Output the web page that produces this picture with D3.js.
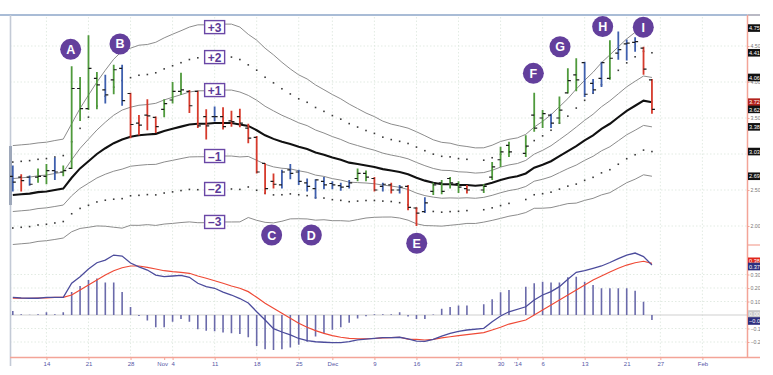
<!DOCTYPE html>
<html><head><meta charset="utf-8">
<script src="https://cdn.jsdelivr.net/npm/d3@7"></script>
<style>body{margin:0;background:#fff;}svg{display:block;}</style>
</head><body><svg id="c" width="773" height="375"></svg>
<script>
// ---------- DATA (one slot per trading day, Oct 8 2013 .. Jan 24 2014; null = empty slot) ----------
const tickIdx  = [4,9,14,18,19,24,29,34,38,43,48,53,58,60,63,68,73,77,82];
const tickText = ["14","21","28","Nov","4","11","18","25","Dec","9","16","23","30","'14","6","13","21","27","Feb"];
const gridIdx  = [4,9,14,19,24,29,34,38,43,48,53,58,63,68,73,77,82];

const open  = [2.69,2.68,2.68,2.68,2.69,2.77,2.75,2.80,3.91,3.63,4.05,3.89,4.03,4.19,3.84,3.43,3.54,3.51,3.62,3.75,3.87,3.87,3.87,3.52,3.52,3.52,3.46,3.52,3.36,3.23,2.87,2.62,2.57,2.78,2.75,2.60,2.52,2.62,2.59,2.56,2.55,2.66,2.73,2.66,2.55,2.57,2.50,2.55,2.25,2.20,2.48,2.60,2.66,2.59,2.52,null,2.50,2.68,2.92,3.12,null,3.01,3.54,3.50,3.54,3.50,3.85,4.10,4.27,3.98,4.05,4.05,4.40,4.53,4.55,4.47,4.03];
const high  = [2.84,2.72,2.70,2.80,2.86,2.95,2.84,4.22,4.07,4.65,4.14,4.10,4.24,4.24,3.85,3.54,3.76,3.52,3.76,4.00,4.13,3.89,3.88,3.62,3.66,3.65,3.60,3.63,3.42,3.25,2.87,2.73,2.78,2.86,2.78,2.66,2.65,2.68,2.62,2.60,2.64,2.80,2.77,2.68,2.60,2.60,2.57,2.57,2.26,2.40,2.60,2.64,2.68,2.62,2.57,null,2.58,2.89,3.10,3.17,null,3.26,3.85,3.61,3.56,3.80,4.19,4.33,4.28,4.04,4.28,4.58,4.70,4.59,4.62,4.49,4.04];
const low   = [2.48,2.48,2.56,2.60,2.58,2.64,2.69,2.79,3.46,3.61,3.62,3.70,3.83,3.67,3.22,3.26,3.33,3.29,3.51,3.70,3.82,3.57,3.36,3.20,3.45,3.34,3.38,3.37,3.15,2.73,2.44,2.52,2.52,2.65,2.57,2.48,2.38,2.51,2.51,2.49,2.52,2.62,2.62,2.48,2.48,2.45,2.45,2.22,2.00,2.18,2.43,2.44,2.52,2.46,2.45,null,2.46,2.64,2.82,2.96,null,2.96,3.31,3.36,3.36,3.42,3.84,3.87,3.79,3.84,3.93,4.03,4.31,4.30,4.42,4.10,3.56];
const close = [2.61,2.63,2.58,2.69,2.77,2.75,2.77,3.91,3.63,4.19,3.96,3.82,4.17,3.74,3.41,3.40,3.53,3.38,3.70,3.87,3.89,3.67,3.39,3.39,3.52,3.38,3.45,3.43,3.22,2.75,2.52,2.58,2.75,2.73,2.62,2.55,2.64,2.57,2.57,2.54,2.60,2.73,2.68,2.50,2.58,2.50,2.54,2.26,2.18,2.32,2.57,2.48,2.60,2.54,2.50,null,2.55,2.82,3.03,3.03,null,3.11,3.36,3.56,3.43,3.61,4.02,4.03,3.83,3.89,4.27,4.33,4.45,4.54,4.56,4.18,3.62];
// impulse system colour: g = green, r = red, b = blue
const impulse = "brbggbgggggbgbrrrrgggrrrbrrrrrrrbbbbbbbbbggrbrbrrbggggr-gggg-gggbgggbbbgbbbrr".split("");

const ema   = [2.43,2.44,2.45,2.47,2.48,2.50,2.52,2.67,2.80,2.90,3.00,3.08,3.15,3.20,3.24,3.26,3.27,3.28,3.32,3.35,3.38,3.41,3.42,3.42,3.43,3.43,3.43,3.41,3.39,3.33,3.26,3.21,3.17,3.14,3.10,3.07,3.02,2.99,2.95,2.92,2.88,2.86,2.84,2.82,2.79,2.77,2.75,2.72,2.67,2.63,2.60,2.58,2.58,2.57,2.57,2.56,2.57,2.60,2.64,2.67,2.69,2.73,2.81,2.85,2.90,2.97,3.04,3.11,3.19,3.26,3.35,3.42,3.51,3.60,3.67,3.74,3.72];
const chanUnit = [0.229,0.229,0.229,0.228,0.228,0.229,0.229,0.25,0.278,0.306,0.333,0.361,0.389,0.41,0.41,0.417,0.417,0.424,0.431,0.438,0.444,0.451,0.458,0.458,0.458,0.458,0.458,0.451,0.424,0.417,0.403,0.389,0.368,0.347,0.333,0.324,0.313,0.301,0.292,0.282,0.271,0.257,0.243,0.233,0.222,0.215,0.213,0.213,0.213,0.208,0.199,0.194,0.19,0.183,0.178,0.175,0.172,0.174,0.178,0.178,0.178,0.181,0.188,0.201,0.215,0.229,0.243,0.264,0.278,0.292,0.306,0.319,0.326,0.333,0.34,0.343,0.343];
const bandMult = [3,2,1,-1,-2,-3];
const bandText = ["+3","+2","+1","\u20131","\u20132","\u20133"];

const macd   = [0.131,0.126,0.124,0.124,0.13,0.131,0.131,0.235,0.284,0.341,0.387,0.407,0.444,0.437,0.385,0.356,0.333,0.296,0.284,0.289,0.294,0.279,0.235,0.21,0.198,0.17,0.148,0.122,0.089,0.024,-0.037,-0.101,-0.126,-0.148,-0.174,-0.19,-0.198,-0.202,-0.205,-0.204,-0.198,-0.185,-0.178,-0.173,-0.168,-0.168,-0.165,-0.176,-0.193,-0.195,-0.18,-0.156,-0.136,-0.121,-0.111,null,-0.099,-0.05,-0.007,0.024,null,0.061,0.111,0.148,0.173,0.21,0.264,0.316,0.328,0.346,0.363,0.389,0.417,0.444,0.459,0.433,0.37];
const signal = [0.124,0.124,0.124,0.126,0.127,0.13,0.131,0.148,0.185,0.222,0.259,0.296,0.328,0.35,0.363,0.363,0.353,0.341,0.328,0.321,0.316,0.309,0.289,0.272,0.254,0.235,0.215,0.198,0.173,0.131,0.087,0.05,0.013,-0.024,-0.061,-0.091,-0.116,-0.136,-0.153,-0.165,-0.173,-0.176,-0.176,-0.174,-0.17,-0.167,-0.165,-0.178,-0.18,-0.185,-0.18,-0.17,-0.161,-0.153,-0.146,null,-0.131,-0.111,-0.091,-0.067,null,-0.037,0,0.037,0.074,0.111,0.148,0.185,0.222,0.259,0.289,0.319,0.346,0.37,0.387,0.398,0.383];
const hist   = [0.03,0.005,0.002,0.005,0.02,0.005,0.02,0.17,0.215,0.26,0.27,0.24,0.24,0.17,0.06,-0.007,-0.04,-0.09,-0.09,-0.05,-0.03,-0.05,-0.106,-0.116,-0.12,-0.13,-0.136,-0.14,-0.165,-0.23,-0.254,-0.259,-0.254,-0.24,-0.22,-0.198,-0.16,-0.136,-0.11,-0.09,-0.057,-0.025,-0.01,0.005,0.005,0.005,0.02,-0.012,-0.03,-0.03,0.003,0.047,0.06,0.07,0.07,null,0.08,0.116,0.168,0.185,null,0.21,0.235,0.247,0.24,0.24,0.28,0.284,0.247,0.222,0.198,0.198,0.198,0.198,0.18,0.099,-0.037];

const priceTicks = [2.0,2.5,3.0,3.5,4.0,4.5];
const priceTickLabels = [2.0,2.5,3.5,4.0,4.5];
const macdTicks = [-0.2,-0.1,0.1,0.2,0.3];
const letters = ["A","B","C","D","E","F","G","H","I"];
const letterIdx = [6.88,12.75,30.78,35.5,48.03,61.9,65.07,70.14,74.97];
const letterPrice = [4.454,4.528,1.875,1.875,1.76,4.12,4.49,4.77,4.76];

// ---------- SCALES ----------
const svg = d3.select("#c");
const x  = d3.scaleLinear().domain([0,82]).range([12.8,702.4]);
const yP = d3.scaleLinear().domain([2,4.5]).range([226,46]);
const yM = d3.scaleLinear().domain([-0.2,0.3]).range([342,274.5]);
const L = 10, R = 747.5, T = 15, SEP = 245, B = 357.5;
const colors = {g:"#4f9a3c", r:"#d63a2c", b:"#3e5fae"};
const salmon = "#f3a497";
const idx = d3.range(ema.length);

const defs = svg.append("defs");
defs.append("clipPath").attr("id","cp").append("rect").attr("x",L).attr("y",T).attr("width",R-L).attr("height",SEP-T);
defs.append("clipPath").attr("id","cm").append("rect").attr("x",L).attr("y",SEP+1).attr("width",R-L).attr("height",B-SEP-1);
defs.append("clipPath").attr("id","cr").append("rect").attr("x",0).attr("y",0).attr("width",760).attr("height",375);

// ---------- GRID ----------
const grid = svg.append("g").attr("stroke","#dbe6dc").attr("stroke-width",0.8).attr("stroke-dasharray","1.5,2");
grid.selectAll("line.v").data(gridIdx).join("line")
  .attr("x1",d=>x(d)).attr("x2",d=>x(d)).attr("y1",T+2).attr("y2",B);
grid.selectAll("line.hp").data(priceTicks).join("line")
  .attr("x1",L).attr("x2",R).attr("y1",d=>yP(d)).attr("y2",d=>yP(d));
grid.selectAll("line.hm").data(macdTicks).join("line")
  .attr("x1",L).attr("x2",R).attr("y1",d=>yM(d)).attr("y2",d=>yM(d));
svg.append("line").attr("x1",L).attr("x2",R).attr("y1",yM(0)).attr("y2",yM(0)).attr("stroke","#cfcfcf").attr("stroke-width",1);

// ---------- FRAME ----------
svg.append("line").attr("x1",0).attr("x2",R).attr("y1",T).attr("y2",T).attr("stroke","#a9bcd6").attr("stroke-width",2);
svg.append("line").attr("x1",R).attr("x2",760).attr("y1",T).attr("y2",T).attr("stroke","#b9b9c4").attr("stroke-width",2);
svg.append("line").attr("x1",L+0.5).attr("x2",L+0.5).attr("y1",T).attr("y2",366).attr("stroke","#c3cad6").attr("stroke-width",1.6);
svg.append("line").attr("x1",L+0.5).attr("x2",L+0.5).attr("y1",146).attr("y2",205).attr("stroke","#9ea8ba").attr("stroke-width",3);

// ---------- PRICE PANEL ----------
const gp = svg.append("g").attr("clip-path","url(#cp)");
const bandLine = k => d3.line().x(i=>x(i)).y(i=>yP(ema[i]+k*chanUnit[i]));
[3,1,-1,-3].forEach(k=>{
  gp.append("path").attr("d",bandLine(k)(idx)).attr("fill","none").attr("stroke","#8c8c8c").attr("stroke-width",1);
});
[2,-2].forEach(k=>{
  gp.selectAll(null).data(idx.filter(i=>open[i]!==null)).join("rect")
    .attr("x",i=>x(i)-0.8).attr("y",i=>yP(ema[i]+k*chanUnit[i])-0.8).attr("width",1.6).attr("height",1.6).attr("fill","#3a3a3a");
});
gp.append("path").attr("d",d3.line().x(i=>x(i)).y(i=>yP(ema[i]))(idx)).attr("fill","none").attr("stroke","#111").attr("stroke-width",2.1);

const bars = idx.filter(i=>open[i]!==null);
const gb = gp.append("g");
gb.selectAll("line.hl").data(bars).join("line")
  .attr("x1",i=>x(i)).attr("x2",i=>x(i)).attr("y1",i=>yP(high[i])).attr("y2",i=>yP(low[i]))
  .attr("stroke",i=>colors[impulse[i]]).attr("stroke-width",1.8);
gb.selectAll("line.o").data(bars).join("line")
  .attr("x1",i=>x(i)-3).attr("x2",i=>x(i)).attr("y1",i=>yP(open[i])).attr("y2",i=>yP(open[i]))
  .attr("stroke","#1a1a1a").attr("stroke-width",1.2);
gb.selectAll("line.c").data(bars).join("line")
  .attr("x1",i=>x(i)).attr("x2",i=>x(i)+3).attr("y1",i=>yP(close[i])).attr("y2",i=>yP(close[i]))
  .attr("stroke","#1a1a1a").attr("stroke-width",1.2);

// band labels
const labI = 24;
const bl = svg.append("g");
bandMult.forEach((k,j)=>{
  const cy = yP(ema[labI]+k*chanUnit[labI]) + (k===3 ? 3 : 0);
  const cx = x(labI);
  bl.append("rect").attr("x",cx-10).attr("y",cy-6.5).attr("width",20).attr("height",13)
    .attr("fill","#fff").attr("stroke","#6a47a6").attr("stroke-width",1.4);
  bl.append("text").attr("x",cx).attr("y",cy+0.5).attr("text-anchor","middle").attr("dominant-baseline","central")
    .attr("font-family","Liberation Sans, Arial, sans-serif").attr("font-weight","bold").attr("font-size",12)
    .attr("fill","#5b3a98").text(bandText[j]);
});

// letter circles
const gl = svg.append("g");
letters.forEach((t,j)=>{
  const cx = x(letterIdx[j]), cy = yP(letterPrice[j]);
  gl.append("circle").attr("cx",cx).attr("cy",cy).attr("r",10.5).attr("fill","#633f9c");
  gl.append("text").attr("x",cx).attr("y",cy+0.5).attr("text-anchor","middle").attr("dominant-baseline","central")
    .attr("font-family","Liberation Sans, Arial, sans-serif").attr("font-weight","bold").attr("font-size",12.5)
    .attr("fill","#fff").text(t);
});

// ---------- MACD PANEL ----------
const gm = svg.append("g").attr("clip-path","url(#cm)");
gm.selectAll("line.h").data(idx.filter(i=>hist[i]!==null)).join("line")
  .attr("x1",i=>x(i)).attr("x2",i=>x(i)).attr("y1",yM(0)).attr("y2",i=>yM(hist[i]))
  .attr("stroke","#6a6aaa").attr("stroke-width",1.6);
gm.append("path").attr("d",d3.line().x(i=>x(i)).y(i=>yM(signal[i]))(idx.filter(i=>signal[i]!==null)))
  .attr("fill","none").attr("stroke","#ef4a36").attr("stroke-width",1.2);
gm.append("path").attr("d",d3.line().x(i=>x(i)).y(i=>yM(macd[i]))(idx.filter(i=>macd[i]!==null)))
  .attr("fill","none").attr("stroke","#4c4c9c").attr("stroke-width",1.3);

// ---------- AXES ----------
const ax = svg.append("g").attr("transform",`translate(0,${B})`)
  .call(d3.axisBottom(x).tickValues(tickIdx).tickFormat((d,i)=>tickText[i]).tickSize(2.5).tickPadding(2));
ax.select(".domain").remove();
ax.selectAll(".tick line").attr("stroke",salmon);
ax.selectAll(".tick text").attr("fill","#5656a6").attr("font-size",6).attr("font-family","Liberation Sans, Arial, sans-serif");
ax.selectAll(".tick").filter(d=>d===18).select("text").attr("dx",-2);
svg.append("line").attr("x1",L).attr("x2",760).attr("y1",B).attr("y2",B).attr("stroke",salmon).attr("stroke-width",1.5);
svg.append("line").attr("x1",R).attr("x2",R).attr("y1",T).attr("y2",B).attr("stroke",salmon).attr("stroke-width",1.5);
svg.append("line").attr("x1",R).attr("x2",760).attr("y1",SEP).attr("y2",SEP).attr("stroke",salmon).attr("stroke-width",1.2);

const rg = svg.append("g").attr("clip-path","url(#cr)");
const ayP = rg.append("g").attr("transform",`translate(${R},0)`)
  .call(d3.axisRight(yP).tickValues(priceTickLabels).tickFormat(d3.format(".2f")).tickSize(2).tickPadding(1));
const ayM = rg.append("g").attr("transform",`translate(${R},0)`)
  .call(d3.axisRight(yM).tickValues(macdTicks).tickFormat(d3.format(".2f")).tickSize(2).tickPadding(1));
[ayP,ayM].forEach(a=>{
  a.select(".domain").remove();
  a.selectAll(".tick line").attr("stroke",salmon);
  a.selectAll(".tick text").attr("fill","#777").attr("font-size",5.2).attr("font-family","Liberation Sans, Arial, sans-serif");
});

// value boxes on right axis
const last = ema.length-1;
const priceBoxes = [
  {v: ema[last]+3*chanUnit[last], c:"#111"},
  {v: ema[last]+2*chanUnit[last], c:"#111"},
  {v: ema[last]+1*chanUnit[last], c:"#111"},
  {v: ema[last], c:"#b3231d"},
  {v: close[last], c:"#111"},
  {v: ema[last]-1*chanUnit[last], c:"#111"},
  {v: ema[last]-2*chanUnit[last], c:"#111"},
  {v: ema[last]-3*chanUnit[last], c:"#111"}
];
const macdBoxes = [
  {v: signal[last], c:"#e0261b", dy:-2},
  {v: macd[last], c:"#2e2e7e", dy:1.5},
  {v: 0, c:"#c8c8c8", dy:-1},
  {v: hist[last], c:"#2e2e7e", dy:1}
];
function boxes(list, scale){
  list.forEach(b=>{
    const cy = scale(b.v) + (b.dy||0);
    rg.append("rect").attr("x",R+0.5).attr("y",cy-3.8).attr("width",13).attr("height",7.6).attr("fill",b.c);
    rg.append("text").attr("x",R+1.5).attr("y",cy+0.2).attr("dominant-baseline","central")
      .attr("font-size",5.6).attr("font-family","Liberation Sans, Arial, sans-serif").attr("fill","#fff")
      .text(d3.format(".2f")(b.v));
  });
}
boxes(priceBoxes, yP);
boxes(macdBoxes, yM);
</script></body></html>
